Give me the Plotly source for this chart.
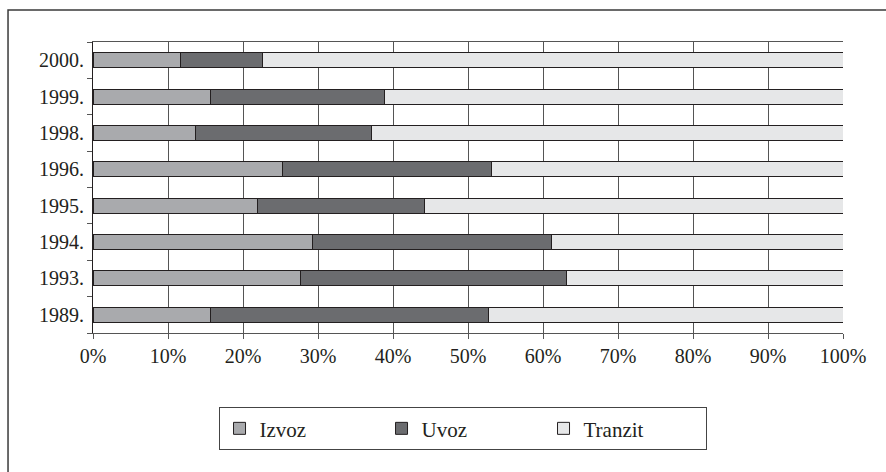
import plotly.graph_objects as go

years = ['1989.', '1993.', '1994.', '1995.', '1996.', '1998.', '1999.', '2000.']
izvoz = [15.6, 27.7, 29.2, 21.9, 25.2, 13.7, 15.7, 11.6]
uvoz = [37.1, 35.4, 31.9, 22.3, 27.9, 23.4, 23.1, 11.0]
tranzit = [round(100 - a - b, 1) for a, b in zip(izvoz, uvoz)]

series = [
    ('Izvoz', izvoz, '#a9aaad'),
    ('Uvoz', uvoz, '#6b6c6f'),
    ('Tranzit', tranzit, '#e6e7e8'),
]

font = 'Liberation Serif, Times New Roman, serif'

fig = go.Figure()
for name, vals, col in series:
    fig.add_trace(go.Bar(
        y=years, x=vals, name=name, orientation='h',
        marker=dict(color=col, line=dict(color='#231f20', width=1)),
    ))

fig.update_layout(
    barmode='stack',
    bargap=0.59,
    width=886, height=472,
    margin=dict(l=93, r=43, t=42, b=139),
    paper_bgcolor='white', plot_bgcolor='white',
    font=dict(family=font, size=20, color='#231f20'),
    showlegend=True,
    legend=dict(
        orientation='h', x=0.4927, xanchor='center', y=-0.255, yanchor='top',
        bordercolor='#444444', borderwidth=1, bgcolor='white',
        font=dict(family=font, size=21, color='#231f20'),
        entrywidth=117, entrywidthmode='pixels',
        traceorder='normal',
    ),
    xaxis=dict(
        range=[0, 100], dtick=10, ticksuffix='%',
        showgrid=True, gridcolor='#555555', gridwidth=1,
        showline=True, linecolor='#555555', linewidth=1, mirror=True,
        ticks='outside', ticklen=5, tickcolor='#555555',
        zeroline=False, fixedrange=True,
    ),
    yaxis=dict(
        type='category', categoryorder='array', categoryarray=years,
        showgrid=False, showline=True, linecolor='#231f20', linewidth=1,
        ticks='outside', ticklen=5, tickcolor='#555555', tickson='boundaries',
        ticklabelstandoff=4,
        fixedrange=True,
    ),
    shapes=[dict(
        type='rect', xref='paper', yref='paper',
        x0=-0.1133, x1=1.2, y0=-0.7, y1=1.11,
        line=dict(color='#3a3a3a', width=1.5), fillcolor='rgba(0,0,0,0)',
        layer='below',
    )],
)

fig.write_html('out.html')
